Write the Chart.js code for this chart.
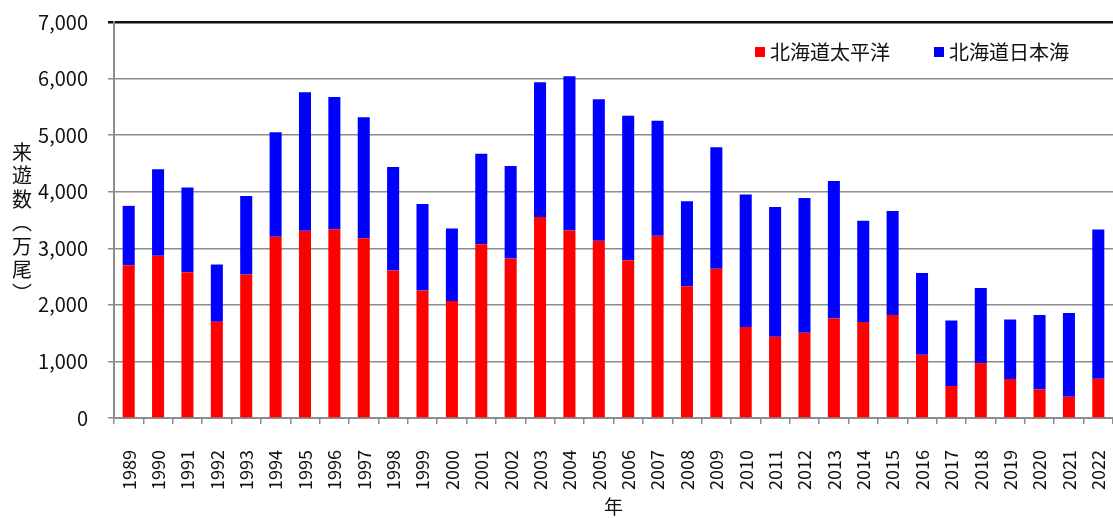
<!DOCTYPE html>
<html>
<head>
<meta charset="utf-8">
<script src="https://cdn.jsdelivr.net/npm/chart.js@4/dist/chart.umd.min.js"></script>
<style>
  body { margin: 0; background: #fff; }
</style>
</head>
<body>
<canvas id="myChart" width="1113" height="518"></canvas>
<script>
// data (万尾)
const years = ['1989', '1990', '1991', '1992', '1993', '1994', '1995', '1996', '1997', '1998',
  '1999', '2000', '2001', '2002', '2003', '2004', '2005', '2006', '2007', '2008',
  '2009', '2010', '2011', '2012', '2013', '2014', '2015', '2016', '2017', '2018',
  '2019', '2020', '2021', '2022'];
const pacific = [2700, 2866, 2578, 1701, 2536, 3202, 3308, 3338, 3179, 2607,
  2254, 2066, 3073, 2819, 3555, 3313, 3134, 2790, 3220, 2331,
  2637, 1607, 1436, 1507, 1760, 1695, 1819, 1118, 565, 971,
  689, 505, 376, 694];
const japanSea = [1050, 1532, 1495, 1012, 1390, 1849, 2450, 2337, 2137, 1831,
  1528, 1283, 1600, 1637, 2379, 2727, 2500, 2554, 2036, 1501,
  2149, 2343, 2296, 2384, 2431, 1790, 1842, 1443, 1159, 1325,
  1052, 1314, 1478, 2637];
const yTicks = [0, 1000, 2000, 3000, 4000, 5000, 6000, 7000];
const yTitle = ['来', '遊', '数', '︵', '万', '尾', '︶'];

const FONT = '"Noto Sans CJK JP", "Noto Sans", sans-serif';

// vertical y title + legend inside plot
const extras = {
  id: 'extras',
  afterDraw(chart) {
    const c = chart.ctx;
    c.save();
    c.fillStyle = '#111';
    c.font = '20px ' + FONT;
    c.textAlign = 'center';
    c.textBaseline = 'middle';
    yTitle.forEach((ch, i) => {
      c.fillText(ch, 22, 152 + i * 23.5);
    });

    // legend
    c.textAlign = 'left';
    let x = 755;
    chart.data.datasets.forEach(ds => {
      c.fillStyle = ds.backgroundColor;
      c.fillRect(x, 47, 10, 10);
      c.fillStyle = '#111';
      c.fillText(ds.label, x + 15, 52);
      x += 179;
    });
    c.restore();
  }
};

new Chart(document.getElementById('myChart'), {
  type: 'bar',
  data: {
    labels: years,
    datasets: [{
      label: '北海道太平洋',
      data: pacific,
      backgroundColor: '#ff0000',
    }, {
      label: '北海道日本海',
      data: japanSea,
      backgroundColor: '#0000ff',
    }]
  },
  options: {
    responsive: false,
    animation: false,
    devicePixelRatio: 1,
    layout: { padding: { top: 22, right: 0, left: 0, bottom: 0 } },
    datasets: {
      bar: { categoryPercentage: 1, barPercentage: 0.41 }
    },
    scales: {
      x: {
        stacked: true,
        afterFit: s => {
          s.height = 100;
          s.paddingLeft = 0;
          s.paddingRight = 0;
        },
        grid: {
          offset: true,
          drawOnChartArea: false,
          tickLength: 6,
          color: '#8c8c8c',
          lineWidth: 1.5,
        },
        border: { color: '#8c8c8c', width: 2 },
        ticks: {
          minRotation: 90,
          maxRotation: 90,
          padding: 26,
          color: '#111',
          font: { family: FONT, size: 18 },
        },
        title: {
          display: true,
          text: '年',
          color: '#111',
          font: { family: FONT, size: 19 },
          padding: { top: 0, bottom: 0 },
        }
      },
      y: {
        stacked: true,
        min: 0,
        max: 7000,
        afterFit: s => {
          s.width = 114;
          s.paddingTop = 0;
          s.paddingBottom = 0;
        },
        afterBuildTicks: s => { s.ticks = yTicks.map(v => ({ value: v })); },
        grid: {
          tickLength: 6,
          color: ctx => ctx.tick && ctx.tick.value === 7000 ? '#111' : '#8c8c8c',
          lineWidth: ctx => ctx.tick && ctx.tick.value === 7000 ? 2.5 : 1.5,
        },
        border: { color: '#8c8c8c', width: 2 },
        ticks: {
          padding: 20,
          color: '#111',
          font: { family: FONT, size: 20 },
          callback: v => v.toLocaleString('en-US'),
        }
      }
    },
    plugins: {
      legend: { display: false },
      tooltip: { enabled: false }
    }
  },
  plugins: [extras]
});
</script>
</body>
</html>
